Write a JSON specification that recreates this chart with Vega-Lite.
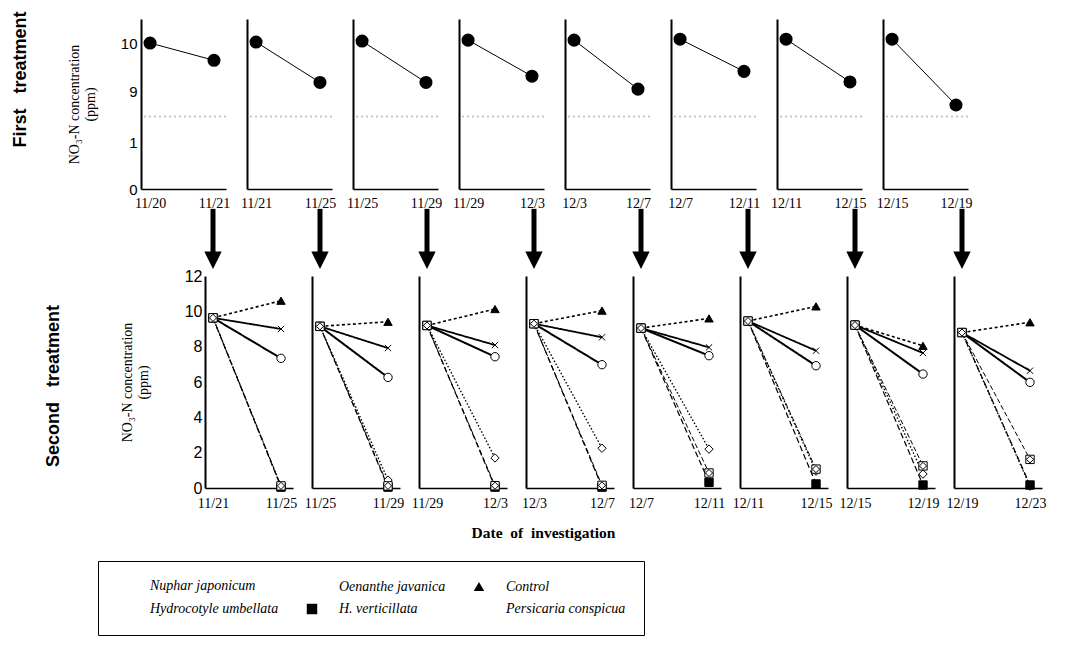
{
"$schema": "https://vega.github.io/schema/vega-lite/v6.json",
"padding": {"left": 12, "top": 11, "right": 5, "bottom": 5},
"bounds": "flush",
"spacing": 257,
"datasets": {
"top": [
{"panel":1,"date":"11/20","v":10.0},{"panel":1,"date":"11/21","v":9.64},
{"panel":2,"date":"11/21","v":10.02},{"panel":2,"date":"11/25","v":9.18},
{"panel":3,"date":"11/25","v":10.04},{"panel":3,"date":"11/29","v":9.18},
{"panel":4,"date":"11/29","v":10.06},{"panel":4,"date":"12/3","v":9.31},
{"panel":5,"date":"12/3","v":10.06},{"panel":5,"date":"12/7","v":9.04},
{"panel":6,"date":"12/7","v":10.08},{"panel":6,"date":"12/11","v":9.41},
{"panel":7,"date":"12/11","v":10.08},{"panel":7,"date":"12/15","v":9.19},
{"panel":8,"date":"12/15","v":10.08},{"panel":8,"date":"12/19","v":8.71}
],
"bottom": [
{"panel":1,"date":"11/21","series":"Nuphar japonicum","v":9.63},{"panel":1,"date":"11/25","series":"Nuphar japonicum","v":7.34},
{"panel":1,"date":"11/21","series":"Oenanthe javanica","v":9.63},{"panel":1,"date":"11/25","series":"Oenanthe javanica","v":9.0},
{"panel":1,"date":"11/21","series":"Control","v":9.63},{"panel":1,"date":"11/25","series":"Control","v":10.6},
{"panel":1,"date":"11/21","series":"Hydrocotyle umbellata","v":9.63},{"panel":1,"date":"11/25","series":"Hydrocotyle umbellata","v":0.1},
{"panel":1,"date":"11/21","series":"H. verticillata","v":9.63},{"panel":1,"date":"11/25","series":"H. verticillata","v":0.05},
{"panel":1,"date":"11/21","series":"Persicaria conspicua","v":9.63},{"panel":1,"date":"11/25","series":"Persicaria conspicua","v":0.12},
{"panel":2,"date":"11/25","series":"Nuphar japonicum","v":9.15},{"panel":2,"date":"11/29","series":"Nuphar japonicum","v":6.26},
{"panel":2,"date":"11/25","series":"Oenanthe javanica","v":9.15},{"panel":2,"date":"11/29","series":"Oenanthe javanica","v":7.92},
{"panel":2,"date":"11/25","series":"Control","v":9.15},{"panel":2,"date":"11/29","series":"Control","v":9.41},
{"panel":2,"date":"11/25","series":"Hydrocotyle umbellata","v":9.15},{"panel":2,"date":"11/29","series":"Hydrocotyle umbellata","v":0.45},
{"panel":2,"date":"11/25","series":"H. verticillata","v":9.15},{"panel":2,"date":"11/29","series":"H. verticillata","v":0.05},
{"panel":2,"date":"11/25","series":"Persicaria conspicua","v":9.15},{"panel":2,"date":"11/29","series":"Persicaria conspicua","v":0.12},
{"panel":3,"date":"11/29","series":"Nuphar japonicum","v":9.2},{"panel":3,"date":"12/3","series":"Nuphar japonicum","v":7.43},
{"panel":3,"date":"11/29","series":"Oenanthe javanica","v":9.2},{"panel":3,"date":"12/3","series":"Oenanthe javanica","v":8.09},
{"panel":3,"date":"11/29","series":"Control","v":9.2},{"panel":3,"date":"12/3","series":"Control","v":10.13},
{"panel":3,"date":"11/29","series":"Hydrocotyle umbellata","v":9.2},{"panel":3,"date":"12/3","series":"Hydrocotyle umbellata","v":1.7},
{"panel":3,"date":"11/29","series":"H. verticillata","v":9.2},{"panel":3,"date":"12/3","series":"H. verticillata","v":0.05},
{"panel":3,"date":"11/29","series":"Persicaria conspicua","v":9.2},{"panel":3,"date":"12/3","series":"Persicaria conspicua","v":0.13},
{"panel":4,"date":"12/3","series":"Nuphar japonicum","v":9.3},{"panel":4,"date":"12/7","series":"Nuphar japonicum","v":6.98},
{"panel":4,"date":"12/3","series":"Oenanthe javanica","v":9.3},{"panel":4,"date":"12/7","series":"Oenanthe javanica","v":8.53},
{"panel":4,"date":"12/3","series":"Control","v":9.3},{"panel":4,"date":"12/7","series":"Control","v":10.04},
{"panel":4,"date":"12/3","series":"Hydrocotyle umbellata","v":9.3},{"panel":4,"date":"12/7","series":"Hydrocotyle umbellata","v":2.25},
{"panel":4,"date":"12/3","series":"H. verticillata","v":9.3},{"panel":4,"date":"12/7","series":"H. verticillata","v":0.05},
{"panel":4,"date":"12/3","series":"Persicaria conspicua","v":9.3},{"panel":4,"date":"12/7","series":"Persicaria conspicua","v":0.15},
{"panel":5,"date":"12/7","series":"Nuphar japonicum","v":9.05},{"panel":5,"date":"12/11","series":"Nuphar japonicum","v":7.49},
{"panel":5,"date":"12/7","series":"Oenanthe javanica","v":9.05},{"panel":5,"date":"12/11","series":"Oenanthe javanica","v":7.96},
{"panel":5,"date":"12/7","series":"Control","v":9.05},{"panel":5,"date":"12/11","series":"Control","v":9.6},
{"panel":5,"date":"12/7","series":"Hydrocotyle umbellata","v":9.05},{"panel":5,"date":"12/11","series":"Hydrocotyle umbellata","v":2.2},
{"panel":5,"date":"12/7","series":"H. verticillata","v":9.05},{"panel":5,"date":"12/11","series":"H. verticillata","v":0.32},
{"panel":5,"date":"12/7","series":"Persicaria conspicua","v":9.05},{"panel":5,"date":"12/11","series":"Persicaria conspicua","v":0.85},
{"panel":6,"date":"12/11","series":"Nuphar japonicum","v":9.45},{"panel":6,"date":"12/15","series":"Nuphar japonicum","v":6.92},
{"panel":6,"date":"12/11","series":"Oenanthe javanica","v":9.45},{"panel":6,"date":"12/15","series":"Oenanthe javanica","v":7.77},
{"panel":6,"date":"12/11","series":"Control","v":9.45},{"panel":6,"date":"12/15","series":"Control","v":10.28},
{"panel":6,"date":"12/11","series":"Hydrocotyle umbellata","v":9.45},{"panel":6,"date":"12/15","series":"Hydrocotyle umbellata","v":0.95},
{"panel":6,"date":"12/11","series":"H. verticillata","v":9.45},{"panel":6,"date":"12/15","series":"H. verticillata","v":0.23},
{"panel":6,"date":"12/11","series":"Persicaria conspicua","v":9.45},{"panel":6,"date":"12/15","series":"Persicaria conspicua","v":1.07},
{"panel":7,"date":"12/15","series":"Nuphar japonicum","v":9.22},{"panel":7,"date":"12/19","series":"Nuphar japonicum","v":6.45},
{"panel":7,"date":"12/15","series":"Oenanthe javanica","v":9.22},{"panel":7,"date":"12/19","series":"Oenanthe javanica","v":7.64},
{"panel":7,"date":"12/15","series":"Control","v":9.22},{"panel":7,"date":"12/19","series":"Control","v":8.05},
{"panel":7,"date":"12/15","series":"Hydrocotyle umbellata","v":9.22},{"panel":7,"date":"12/19","series":"Hydrocotyle umbellata","v":0.79},
{"panel":7,"date":"12/15","series":"H. verticillata","v":9.22},{"panel":7,"date":"12/19","series":"H. verticillata","v":0.17},
{"panel":7,"date":"12/15","series":"Persicaria conspicua","v":9.22},{"panel":7,"date":"12/19","series":"Persicaria conspicua","v":1.25},
{"panel":8,"date":"12/19","series":"Nuphar japonicum","v":8.8},{"panel":8,"date":"12/23","series":"Nuphar japonicum","v":5.98},
{"panel":8,"date":"12/19","series":"Oenanthe javanica","v":8.8},{"panel":8,"date":"12/23","series":"Oenanthe javanica","v":6.64},
{"panel":8,"date":"12/19","series":"Control","v":8.8},{"panel":8,"date":"12/23","series":"Control","v":9.38},
{"panel":8,"date":"12/19","series":"Hydrocotyle umbellata","v":8.8},{"panel":8,"date":"12/23","series":"Hydrocotyle umbellata","v":0.1},
{"panel":8,"date":"12/19","series":"H. verticillata","v":8.8},{"panel":8,"date":"12/23","series":"H. verticillata","v":0.17},
{"panel":8,"date":"12/19","series":"Persicaria conspicua","v":8.8},{"panel":8,"date":"12/23","series":"Persicaria conspicua","v":1.62}
]
},
"vconcat": [
{
"bounds": "flush",
"spacing": 21,
"title": {"text": "First\u00a0\u00a0\u00a0treatment", "orient": "left", "anchor": "middle", "frame": "bounds", "font": "Liberation Sans", "fontSize": 18, "fontWeight": "bold", "color": "black", "offset": 37, "dx": 35},
"hconcat": [
{"width": 85, "height": 170, "data": {"name": "top"}, "transform": [{"filter": "datum.panel == 1"}],
 "layer": [
  {"mark": {"type": "rule", "color": "#c4c4c4", "strokeDash": [2, 3], "strokeWidth": 1.5}, "encoding": {"y": {"datum": 8.47, "type": "quantitative", "scale": {"domain": [0, 1.52, 8.46, 10.5], "range": [170, 100, 98, 0], "zero": false, "nice": false}, "axis": {"values": [0, 1, 9, 10], "ticks": false, "domainWidth": 2, "labelFont": "Liberation Sans", "labelFontSize": 15, "labelPadding": 4, "labelFlush": false, "title": ["NO₃-N concentration", "(ppm)"], "titleFont": "Liberation Serif", "titleFontSize": 14, "titleFontWeight": "normal", "titlePadding": 23}}}},
  {"mark": {"type": "line", "color": "black", "strokeWidth": 1}, "encoding": {
   "x": {"field": "date", "type": "nominal", "scale": {"type": "point", "domain": ["11/20", "11/21"], "padding": 0.165, "align": 0.43}, "axis": {"title": null, "labelAngle": 0, "ticks": false, "domainWidth": 1.5, "labelFont": "Liberation Serif", "labelFontSize": 14, "labelPadding": 7, "labelOverlap": false, "labelBound": false, "labelFlush": false}},
   "y": {"field": "v", "type": "quantitative", "scale": {"domain": [0, 1.52, 8.46, 10.5], "range": [170, 100, 98, 0], "zero": false, "nice": false}, "axis": {"values": [0, 1, 9, 10], "ticks": false, "domainWidth": 2, "labelFont": "Liberation Sans", "labelFontSize": 15, "labelPadding": 4, "labelFlush": false, "title": ["NO₃-N concentration", "(ppm)"], "titleFont": "Liberation Serif", "titleFontSize": 14, "titleFontWeight": "normal", "titlePadding": 23}}}},
  {"mark": {"type": "point", "filled": true, "color": "black", "size": 170, "opacity": 1}, "encoding": {
   "x": {"field": "date", "type": "nominal", "scale": {"type": "point", "domain": ["11/20", "11/21"], "padding": 0.165, "align": 0.43}, "axis": {"title": null, "labelAngle": 0, "ticks": false, "domainWidth": 1.5, "labelFont": "Liberation Serif", "labelFontSize": 14, "labelPadding": 7, "labelOverlap": false, "labelBound": false, "labelFlush": false}},
   "y": {"field": "v", "type": "quantitative", "scale": {"domain": [0, 1.52, 8.46, 10.5], "range": [170, 100, 98, 0], "zero": false, "nice": false}, "axis": {"values": [0, 1, 9, 10], "ticks": false, "domainWidth": 2, "labelFont": "Liberation Sans", "labelFontSize": 15, "labelPadding": 4, "labelFlush": false, "title": ["NO₃-N concentration", "(ppm)"], "titleFont": "Liberation Serif", "titleFontSize": 14, "titleFontWeight": "normal", "titlePadding": 23}}}}
 ]},
{"width": 85, "height": 170, "data": {"name": "top"}, "transform": [{"filter": "datum.panel == 2"}],
 "layer": [
  {"mark": {"type": "rule", "color": "#c4c4c4", "strokeDash": [2, 3], "strokeWidth": 1.5}, "encoding": {"y": {"datum": 8.47, "type": "quantitative", "scale": {"domain": [0, 1.52, 8.46, 10.5], "range": [170, 100, 98, 0], "zero": false, "nice": false}, "axis": {"values": [0, 1, 9, 10], "ticks": false, "domainWidth": 2, "labels": false, "title": null}}}},
  {"mark": {"type": "line", "color": "black", "strokeWidth": 1}, "encoding": {
   "x": {"field": "date", "type": "nominal", "scale": {"type": "point", "domain": ["11/21", "11/25"], "padding": 0.165, "align": 0.43}, "axis": {"title": null, "labelAngle": 0, "ticks": false, "domainWidth": 1.5, "labelFont": "Liberation Serif", "labelFontSize": 14, "labelPadding": 7, "labelOverlap": false, "labelBound": false, "labelFlush": false}},
   "y": {"field": "v", "type": "quantitative", "scale": {"domain": [0, 1.52, 8.46, 10.5], "range": [170, 100, 98, 0], "zero": false, "nice": false}, "axis": {"values": [0, 1, 9, 10], "ticks": false, "domainWidth": 2, "labels": false, "title": null}}}},
  {"mark": {"type": "point", "filled": true, "color": "black", "size": 170, "opacity": 1}, "encoding": {
   "x": {"field": "date", "type": "nominal", "scale": {"type": "point", "domain": ["11/21", "11/25"], "padding": 0.165, "align": 0.43}, "axis": {"title": null, "labelAngle": 0, "ticks": false, "domainWidth": 1.5, "labelFont": "Liberation Serif", "labelFontSize": 14, "labelPadding": 7, "labelOverlap": false, "labelBound": false, "labelFlush": false}},
   "y": {"field": "v", "type": "quantitative", "scale": {"domain": [0, 1.52, 8.46, 10.5], "range": [170, 100, 98, 0], "zero": false, "nice": false}, "axis": {"values": [0, 1, 9, 10], "ticks": false, "domainWidth": 2, "labels": false, "title": null}}}}
 ]},
{"width": 85, "height": 170, "data": {"name": "top"}, "transform": [{"filter": "datum.panel == 3"}],
 "layer": [
  {"mark": {"type": "rule", "color": "#c4c4c4", "strokeDash": [2, 3], "strokeWidth": 1.5}, "encoding": {"y": {"datum": 8.47, "type": "quantitative", "scale": {"domain": [0, 1.52, 8.46, 10.5], "range": [170, 100, 98, 0], "zero": false, "nice": false}, "axis": {"values": [0, 1, 9, 10], "ticks": false, "domainWidth": 2, "labels": false, "title": null}}}},
  {"mark": {"type": "line", "color": "black", "strokeWidth": 1}, "encoding": {
   "x": {"field": "date", "type": "nominal", "scale": {"type": "point", "domain": ["11/25", "11/29"], "padding": 0.165, "align": 0.43}, "axis": {"title": null, "labelAngle": 0, "ticks": false, "domainWidth": 1.5, "labelFont": "Liberation Serif", "labelFontSize": 14, "labelPadding": 7, "labelOverlap": false, "labelBound": false, "labelFlush": false}},
   "y": {"field": "v", "type": "quantitative", "scale": {"domain": [0, 1.52, 8.46, 10.5], "range": [170, 100, 98, 0], "zero": false, "nice": false}, "axis": {"values": [0, 1, 9, 10], "ticks": false, "domainWidth": 2, "labels": false, "title": null}}}},
  {"mark": {"type": "point", "filled": true, "color": "black", "size": 170, "opacity": 1}, "encoding": {
   "x": {"field": "date", "type": "nominal", "scale": {"type": "point", "domain": ["11/25", "11/29"], "padding": 0.165, "align": 0.43}, "axis": {"title": null, "labelAngle": 0, "ticks": false, "domainWidth": 1.5, "labelFont": "Liberation Serif", "labelFontSize": 14, "labelPadding": 7, "labelOverlap": false, "labelBound": false, "labelFlush": false}},
   "y": {"field": "v", "type": "quantitative", "scale": {"domain": [0, 1.52, 8.46, 10.5], "range": [170, 100, 98, 0], "zero": false, "nice": false}, "axis": {"values": [0, 1, 9, 10], "ticks": false, "domainWidth": 2, "labels": false, "title": null}}}}
 ]},
{"width": 85, "height": 170, "data": {"name": "top"}, "transform": [{"filter": "datum.panel == 4"}],
 "layer": [
  {"mark": {"type": "rule", "color": "#c4c4c4", "strokeDash": [2, 3], "strokeWidth": 1.5}, "encoding": {"y": {"datum": 8.47, "type": "quantitative", "scale": {"domain": [0, 1.52, 8.46, 10.5], "range": [170, 100, 98, 0], "zero": false, "nice": false}, "axis": {"values": [0, 1, 9, 10], "ticks": false, "domainWidth": 2, "labels": false, "title": null}}}},
  {"mark": {"type": "line", "color": "black", "strokeWidth": 1}, "encoding": {
   "x": {"field": "date", "type": "nominal", "scale": {"type": "point", "domain": ["11/29", "12/3"], "padding": 0.165, "align": 0.43}, "axis": {"title": null, "labelAngle": 0, "ticks": false, "domainWidth": 1.5, "labelFont": "Liberation Serif", "labelFontSize": 14, "labelPadding": 7, "labelOverlap": false, "labelBound": false, "labelFlush": false}},
   "y": {"field": "v", "type": "quantitative", "scale": {"domain": [0, 1.52, 8.46, 10.5], "range": [170, 100, 98, 0], "zero": false, "nice": false}, "axis": {"values": [0, 1, 9, 10], "ticks": false, "domainWidth": 2, "labels": false, "title": null}}}},
  {"mark": {"type": "point", "filled": true, "color": "black", "size": 170, "opacity": 1}, "encoding": {
   "x": {"field": "date", "type": "nominal", "scale": {"type": "point", "domain": ["11/29", "12/3"], "padding": 0.165, "align": 0.43}, "axis": {"title": null, "labelAngle": 0, "ticks": false, "domainWidth": 1.5, "labelFont": "Liberation Serif", "labelFontSize": 14, "labelPadding": 7, "labelOverlap": false, "labelBound": false, "labelFlush": false}},
   "y": {"field": "v", "type": "quantitative", "scale": {"domain": [0, 1.52, 8.46, 10.5], "range": [170, 100, 98, 0], "zero": false, "nice": false}, "axis": {"values": [0, 1, 9, 10], "ticks": false, "domainWidth": 2, "labels": false, "title": null}}}}
 ]},
{"width": 85, "height": 170, "data": {"name": "top"}, "transform": [{"filter": "datum.panel == 5"}],
 "layer": [
  {"mark": {"type": "rule", "color": "#c4c4c4", "strokeDash": [2, 3], "strokeWidth": 1.5}, "encoding": {"y": {"datum": 8.47, "type": "quantitative", "scale": {"domain": [0, 1.52, 8.46, 10.5], "range": [170, 100, 98, 0], "zero": false, "nice": false}, "axis": {"values": [0, 1, 9, 10], "ticks": false, "domainWidth": 2, "labels": false, "title": null}}}},
  {"mark": {"type": "line", "color": "black", "strokeWidth": 1}, "encoding": {
   "x": {"field": "date", "type": "nominal", "scale": {"type": "point", "domain": ["12/3", "12/7"], "padding": 0.165, "align": 0.43}, "axis": {"title": null, "labelAngle": 0, "ticks": false, "domainWidth": 1.5, "labelFont": "Liberation Serif", "labelFontSize": 14, "labelPadding": 7, "labelOverlap": false, "labelBound": false, "labelFlush": false}},
   "y": {"field": "v", "type": "quantitative", "scale": {"domain": [0, 1.52, 8.46, 10.5], "range": [170, 100, 98, 0], "zero": false, "nice": false}, "axis": {"values": [0, 1, 9, 10], "ticks": false, "domainWidth": 2, "labels": false, "title": null}}}},
  {"mark": {"type": "point", "filled": true, "color": "black", "size": 170, "opacity": 1}, "encoding": {
   "x": {"field": "date", "type": "nominal", "scale": {"type": "point", "domain": ["12/3", "12/7"], "padding": 0.165, "align": 0.43}, "axis": {"title": null, "labelAngle": 0, "ticks": false, "domainWidth": 1.5, "labelFont": "Liberation Serif", "labelFontSize": 14, "labelPadding": 7, "labelOverlap": false, "labelBound": false, "labelFlush": false}},
   "y": {"field": "v", "type": "quantitative", "scale": {"domain": [0, 1.52, 8.46, 10.5], "range": [170, 100, 98, 0], "zero": false, "nice": false}, "axis": {"values": [0, 1, 9, 10], "ticks": false, "domainWidth": 2, "labels": false, "title": null}}}}
 ]},
{"width": 85, "height": 170, "data": {"name": "top"}, "transform": [{"filter": "datum.panel == 6"}],
 "layer": [
  {"mark": {"type": "rule", "color": "#c4c4c4", "strokeDash": [2, 3], "strokeWidth": 1.5}, "encoding": {"y": {"datum": 8.47, "type": "quantitative", "scale": {"domain": [0, 1.52, 8.46, 10.5], "range": [170, 100, 98, 0], "zero": false, "nice": false}, "axis": {"values": [0, 1, 9, 10], "ticks": false, "domainWidth": 2, "labels": false, "title": null}}}},
  {"mark": {"type": "line", "color": "black", "strokeWidth": 1}, "encoding": {
   "x": {"field": "date", "type": "nominal", "scale": {"type": "point", "domain": ["12/7", "12/11"], "padding": 0.165, "align": 0.43}, "axis": {"title": null, "labelAngle": 0, "ticks": false, "domainWidth": 1.5, "labelFont": "Liberation Serif", "labelFontSize": 14, "labelPadding": 7, "labelOverlap": false, "labelBound": false, "labelFlush": false}},
   "y": {"field": "v", "type": "quantitative", "scale": {"domain": [0, 1.52, 8.46, 10.5], "range": [170, 100, 98, 0], "zero": false, "nice": false}, "axis": {"values": [0, 1, 9, 10], "ticks": false, "domainWidth": 2, "labels": false, "title": null}}}},
  {"mark": {"type": "point", "filled": true, "color": "black", "size": 170, "opacity": 1}, "encoding": {
   "x": {"field": "date", "type": "nominal", "scale": {"type": "point", "domain": ["12/7", "12/11"], "padding": 0.165, "align": 0.43}, "axis": {"title": null, "labelAngle": 0, "ticks": false, "domainWidth": 1.5, "labelFont": "Liberation Serif", "labelFontSize": 14, "labelPadding": 7, "labelOverlap": false, "labelBound": false, "labelFlush": false}},
   "y": {"field": "v", "type": "quantitative", "scale": {"domain": [0, 1.52, 8.46, 10.5], "range": [170, 100, 98, 0], "zero": false, "nice": false}, "axis": {"values": [0, 1, 9, 10], "ticks": false, "domainWidth": 2, "labels": false, "title": null}}}}
 ]},
{"width": 85, "height": 170, "data": {"name": "top"}, "transform": [{"filter": "datum.panel == 7"}],
 "layer": [
  {"mark": {"type": "rule", "color": "#c4c4c4", "strokeDash": [2, 3], "strokeWidth": 1.5}, "encoding": {"y": {"datum": 8.47, "type": "quantitative", "scale": {"domain": [0, 1.52, 8.46, 10.5], "range": [170, 100, 98, 0], "zero": false, "nice": false}, "axis": {"values": [0, 1, 9, 10], "ticks": false, "domainWidth": 2, "labels": false, "title": null}}}},
  {"mark": {"type": "line", "color": "black", "strokeWidth": 1}, "encoding": {
   "x": {"field": "date", "type": "nominal", "scale": {"type": "point", "domain": ["12/11", "12/15"], "padding": 0.165, "align": 0.43}, "axis": {"title": null, "labelAngle": 0, "ticks": false, "domainWidth": 1.5, "labelFont": "Liberation Serif", "labelFontSize": 14, "labelPadding": 7, "labelOverlap": false, "labelBound": false, "labelFlush": false}},
   "y": {"field": "v", "type": "quantitative", "scale": {"domain": [0, 1.52, 8.46, 10.5], "range": [170, 100, 98, 0], "zero": false, "nice": false}, "axis": {"values": [0, 1, 9, 10], "ticks": false, "domainWidth": 2, "labels": false, "title": null}}}},
  {"mark": {"type": "point", "filled": true, "color": "black", "size": 170, "opacity": 1}, "encoding": {
   "x": {"field": "date", "type": "nominal", "scale": {"type": "point", "domain": ["12/11", "12/15"], "padding": 0.165, "align": 0.43}, "axis": {"title": null, "labelAngle": 0, "ticks": false, "domainWidth": 1.5, "labelFont": "Liberation Serif", "labelFontSize": 14, "labelPadding": 7, "labelOverlap": false, "labelBound": false, "labelFlush": false}},
   "y": {"field": "v", "type": "quantitative", "scale": {"domain": [0, 1.52, 8.46, 10.5], "range": [170, 100, 98, 0], "zero": false, "nice": false}, "axis": {"values": [0, 1, 9, 10], "ticks": false, "domainWidth": 2, "labels": false, "title": null}}}}
 ]},
{"width": 85, "height": 170, "data": {"name": "top"}, "transform": [{"filter": "datum.panel == 8"}],
 "layer": [
  {"mark": {"type": "rule", "color": "#c4c4c4", "strokeDash": [2, 3], "strokeWidth": 1.5}, "encoding": {"y": {"datum": 8.47, "type": "quantitative", "scale": {"domain": [0, 1.52, 8.46, 10.5], "range": [170, 100, 98, 0], "zero": false, "nice": false}, "axis": {"values": [0, 1, 9, 10], "ticks": false, "domainWidth": 2, "labels": false, "title": null}}}},
  {"mark": {"type": "line", "color": "black", "strokeWidth": 1}, "encoding": {
   "x": {"field": "date", "type": "nominal", "scale": {"type": "point", "domain": ["12/15", "12/19"], "padding": 0.165, "align": 0.43}, "axis": {"title": null, "labelAngle": 0, "ticks": false, "domainWidth": 1.5, "labelFont": "Liberation Serif", "labelFontSize": 14, "labelPadding": 7, "labelOverlap": false, "labelBound": false, "labelFlush": false}},
   "y": {"field": "v", "type": "quantitative", "scale": {"domain": [0, 1.52, 8.46, 10.5], "range": [170, 100, 98, 0], "zero": false, "nice": false}, "axis": {"values": [0, 1, 9, 10], "ticks": false, "domainWidth": 2, "labels": false, "title": null}}}},
  {"mark": {"type": "point", "filled": true, "color": "black", "size": 170, "opacity": 1}, "encoding": {
   "x": {"field": "date", "type": "nominal", "scale": {"type": "point", "domain": ["12/15", "12/19"], "padding": 0.165, "align": 0.43}, "axis": {"title": null, "labelAngle": 0, "ticks": false, "domainWidth": 1.5, "labelFont": "Liberation Serif", "labelFontSize": 14, "labelPadding": 7, "labelOverlap": false, "labelBound": false, "labelFlush": false}},
   "y": {"field": "v", "type": "quantitative", "scale": {"domain": [0, 1.52, 8.46, 10.5], "range": [170, 100, 98, 0], "zero": false, "nice": false}, "axis": {"values": [0, 1, 9, 10], "ticks": false, "domainWidth": 2, "labels": false, "title": null}}}}
 ]}
]
},
{
"bounds": "flush",
"spacing": 19,
"title": {"text": "Second\u00a0\u00a0\u00a0treatment", "orient": "left", "anchor": "middle", "frame": "bounds", "font": "Liberation Sans", "fontSize": 18, "fontWeight": "bold", "color": "black", "offset": 35, "dx": 35},
"resolve": {"scale": {"shape": "independent", "fill": "independent"}, "legend": {"shape": "independent", "fill": "independent"}},
"hconcat": [
{"width": 45, "height": 212, "data": {"values": [{"k": 1}]}, "mark": {"type": "text", "text": ""}, "encoding": {}},
{"width": 88, "height": 212, "data": {"name": "bottom"}, "transform": [{"filter": "datum.panel == 1"}],
 "layer": [
  {"mark": {"type": "line", "color": "black"}, "encoding": {
   "x": {"field": "date", "type": "nominal", "scale": {"type": "point", "domain": ["11/21", "11/25"], "padding": 0.147, "align": 0.4}, "axis": {"title": null, "labelAngle": 0, "ticks": false, "domainWidth": 1.5, "labelFont": "Liberation Serif", "labelFontSize": 14, "labelPadding": 8, "labelOverlap": false, "labelBound": false, "labelFlush": false}},
   "y": {"field": "v", "type": "quantitative", "scale": {"domain": [0, 12], "nice": false}, "axis": {"values": [0, 2, 4, 6, 8, 10, 12], "ticks": false, "domainWidth": 2, "labelFont": "Liberation Sans", "labelFontSize": 16, "labelPadding": 3, "labelFlush": false, "title": ["NO₃-N concentration", "(ppm)"], "titleFont": "Liberation Serif", "titleFontSize": 14, "titleFontWeight": "normal", "titlePadding": 34}},
   "strokeDash": {"field": "series", "type": "nominal", "scale": {"domain": ["Nuphar japonicum", "Oenanthe javanica", "Control", "Hydrocotyle umbellata", "H. verticillata", "Persicaria conspicua"], "range": [[1, 0], [1, 0], [3, 2.5], [1.5, 2], [6, 3], [5, 2.5]]}, "legend": null},
   "strokeWidth": {"field": "series", "type": "nominal", "scale": {"domain": ["Nuphar japonicum", "Oenanthe javanica", "Control", "Hydrocotyle umbellata", "H. verticillata", "Persicaria conspicua"], "range": [2, 1, 2.5, 1, 2.5, 1.3]}, "legend": null}}},
  {"mark": {"type": "point", "filled": true, "stroke": "black", "strokeWidth": 1, "size": 70, "opacity": 1}, "encoding": {
   "x": {"field": "date", "type": "nominal", "scale": {"type": "point", "domain": ["11/21", "11/25"], "padding": 0.147, "align": 0.4}, "axis": {"title": null, "labelAngle": 0, "ticks": false, "domainWidth": 1.5, "labelFont": "Liberation Serif", "labelFontSize": 14, "labelPadding": 8, "labelOverlap": false, "labelBound": false, "labelFlush": false}},
   "y": {"field": "v", "type": "quantitative", "scale": {"domain": [0, 12], "nice": false}, "axis": {"values": [0, 2, 4, 6, 8, 10, 12], "ticks": false, "domainWidth": 2, "labelFont": "Liberation Sans", "labelFontSize": 16, "labelPadding": 3, "labelFlush": false, "title": ["NO₃-N concentration", "(ppm)"], "titleFont": "Liberation Serif", "titleFontSize": 14, "titleFontWeight": "normal", "titlePadding": 34}},
   "shape": {"field": "series", "type": "nominal", "scale": {"domain": ["Nuphar japonicum", "Oenanthe javanica", "Control", "Hydrocotyle umbellata", "H. verticillata", "Persicaria conspicua"], "range": ["circle", "M-0.75,-0.75L0.75,0.75M-0.75,0.75L0.75,-0.75", "triangle-up", "diamond", "square", "M-1,-1L1,-1L1,1L-1,1Z M0,-0.85L0.85,0L0,0.85L-0.85,0Z"]},
     "legend": {"title": null, "orient": "none", "legendX": -107, "legendY": 285, "direction": "horizontal", "columns": 3, "columnPadding": 25, "rowPadding": 7, "padding": 18, "gridAlign": "each", "strokeColor": "black", "symbolSize": 110, "symbolStrokeColor": "black", "symbolStrokeWidth": 1, "labelFont": "Liberation Serif", "labelFontStyle": "italic", "labelFontSize": 14, "labelColor": "black", "labelOffset": 20, "labelLimit": 700,
       "encode": {"symbols": {"stroke": {"value": "black"}, "strokeWidth": {"value": 1}}}}},
   "fill": {"field": "series", "type": "nominal", "scale": {"domain": ["Nuphar japonicum", "Oenanthe javanica", "Control", "Hydrocotyle umbellata", "H. verticillata", "Persicaria conspicua"], "range": ["white", "white", "black", "white", "black", "white"]},
     "legend": {"title": null, "orient": "none", "legendX": -107, "legendY": 285, "direction": "horizontal", "columns": 3, "columnPadding": 25, "rowPadding": 7, "padding": 18, "gridAlign": "each", "strokeColor": "black", "symbolSize": 110, "symbolStrokeColor": "black", "symbolStrokeWidth": 1, "labelFont": "Liberation Serif", "labelFontStyle": "italic", "labelFontSize": 14, "labelColor": "black", "labelOffset": 20, "labelLimit": 700,
       "encode": {"symbols": {"stroke": {"value": "black"}, "strokeWidth": {"value": 1}}}}}}},
  {"transform": [{"filter": "datum.series == 'Control' && datum.date == '11/21'"}], "mark": {"type": "rule", "color": "black", "strokeWidth": 5}, "encoding": {
   "x": {"field": "date", "type": "nominal", "scale": {"type": "point", "domain": ["11/21", "11/25"], "padding": 0.147, "align": 0.4}, "axis": {"title": null, "labelAngle": 0, "ticks": false, "domainWidth": 1.5, "labelFont": "Liberation Serif", "labelFontSize": 14, "labelPadding": 8, "labelOverlap": false, "labelBound": false, "labelFlush": false}},
   "y": {"datum": 15.8, "type": "quantitative", "scale": {"domain": [0, 12], "nice": false}, "axis": {"values": [0, 2, 4, 6, 8, 10, 12], "ticks": false, "domainWidth": 2, "labelFont": "Liberation Sans", "labelFontSize": 16, "labelPadding": 3, "labelFlush": false, "title": ["NO₃-N concentration", "(ppm)"], "titleFont": "Liberation Serif", "titleFontSize": 14, "titleFontWeight": "normal", "titlePadding": 34}},
   "y2": {"datum": 13.25}}},
  {"transform": [{"filter": "datum.series == 'Control' && datum.date == '11/21'"}], "mark": {"type": "point", "shape": "M-1,-1L1,-1L0,1Z", "filled": true, "color": "black", "size": 300, "opacity": 1}, "encoding": {
   "x": {"field": "date", "type": "nominal", "scale": {"type": "point", "domain": ["11/21", "11/25"], "padding": 0.147, "align": 0.4}, "axis": {"title": null, "labelAngle": 0, "ticks": false, "domainWidth": 1.5, "labelFont": "Liberation Serif", "labelFontSize": 14, "labelPadding": 8, "labelOverlap": false, "labelBound": false, "labelFlush": false}},
   "y": {"datum": 12.89, "type": "quantitative", "scale": {"domain": [0, 12], "nice": false}, "axis": {"values": [0, 2, 4, 6, 8, 10, 12], "ticks": false, "domainWidth": 2, "labelFont": "Liberation Sans", "labelFontSize": 16, "labelPadding": 3, "labelFlush": false, "title": ["NO₃-N concentration", "(ppm)"], "titleFont": "Liberation Serif", "titleFontSize": 14, "titleFontWeight": "normal", "titlePadding": 34}}}}
 ]},
{"width": 88, "height": 212, "data": {"name": "bottom"}, "transform": [{"filter": "datum.panel == 2"}],
 "layer": [
  {"mark": {"type": "line", "color": "black"}, "encoding": {
   "x": {"field": "date", "type": "nominal", "scale": {"type": "point", "domain": ["11/25", "11/29"], "padding": 0.147, "align": 0.4}, "axis": {"title": null, "labelAngle": 0, "ticks": false, "domainWidth": 1.5, "labelFont": "Liberation Serif", "labelFontSize": 14, "labelPadding": 8, "labelOverlap": false, "labelBound": false, "labelFlush": false}},
   "y": {"field": "v", "type": "quantitative", "scale": {"domain": [0, 12], "nice": false}, "axis": {"values": [0, 2, 4, 6, 8, 10, 12], "ticks": false, "domainWidth": 2, "labels": false, "title": null}},
   "strokeDash": {"field": "series", "type": "nominal", "scale": {"domain": ["Nuphar japonicum", "Oenanthe javanica", "Control", "Hydrocotyle umbellata", "H. verticillata", "Persicaria conspicua"], "range": [[1, 0], [1, 0], [3, 2.5], [1.5, 2], [6, 3], [5, 2.5]]}, "legend": null},
   "strokeWidth": {"field": "series", "type": "nominal", "scale": {"domain": ["Nuphar japonicum", "Oenanthe javanica", "Control", "Hydrocotyle umbellata", "H. verticillata", "Persicaria conspicua"], "range": [2, 1, 2.5, 1, 2.5, 1.3]}, "legend": null}}},
  {"mark": {"type": "point", "filled": true, "stroke": "black", "strokeWidth": 1, "size": 70, "opacity": 1}, "encoding": {
   "x": {"field": "date", "type": "nominal", "scale": {"type": "point", "domain": ["11/25", "11/29"], "padding": 0.147, "align": 0.4}, "axis": {"title": null, "labelAngle": 0, "ticks": false, "domainWidth": 1.5, "labelFont": "Liberation Serif", "labelFontSize": 14, "labelPadding": 8, "labelOverlap": false, "labelBound": false, "labelFlush": false}},
   "y": {"field": "v", "type": "quantitative", "scale": {"domain": [0, 12], "nice": false}, "axis": {"values": [0, 2, 4, 6, 8, 10, 12], "ticks": false, "domainWidth": 2, "labels": false, "title": null}},
   "shape": {"field": "series", "type": "nominal", "legend": null, "scale": {"domain": ["Nuphar japonicum", "Oenanthe javanica", "Control", "Hydrocotyle umbellata", "H. verticillata", "Persicaria conspicua"], "range": ["circle", "M-0.75,-0.75L0.75,0.75M-0.75,0.75L0.75,-0.75", "triangle-up", "diamond", "square", "M-1,-1L1,-1L1,1L-1,1Z M0,-0.85L0.85,0L0,0.85L-0.85,0Z"]}},
   "fill": {"field": "series", "type": "nominal", "legend": null, "scale": {"domain": ["Nuphar japonicum", "Oenanthe javanica", "Control", "Hydrocotyle umbellata", "H. verticillata", "Persicaria conspicua"], "range": ["white", "white", "black", "white", "black", "white"]}}}},
  {"transform": [{"filter": "datum.series == 'Control' && datum.date == '11/25'"}], "mark": {"type": "rule", "color": "black", "strokeWidth": 5}, "encoding": {
   "x": {"field": "date", "type": "nominal", "scale": {"type": "point", "domain": ["11/25", "11/29"], "padding": 0.147, "align": 0.4}, "axis": {"title": null, "labelAngle": 0, "ticks": false, "domainWidth": 1.5, "labelFont": "Liberation Serif", "labelFontSize": 14, "labelPadding": 8, "labelOverlap": false, "labelBound": false, "labelFlush": false}},
   "y": {"datum": 15.8, "type": "quantitative", "scale": {"domain": [0, 12], "nice": false}, "axis": {"values": [0, 2, 4, 6, 8, 10, 12], "ticks": false, "domainWidth": 2, "labels": false, "title": null}},
   "y2": {"datum": 13.25}}},
  {"transform": [{"filter": "datum.series == 'Control' && datum.date == '11/25'"}], "mark": {"type": "point", "shape": "M-1,-1L1,-1L0,1Z", "filled": true, "color": "black", "size": 300, "opacity": 1}, "encoding": {
   "x": {"field": "date", "type": "nominal", "scale": {"type": "point", "domain": ["11/25", "11/29"], "padding": 0.147, "align": 0.4}, "axis": {"title": null, "labelAngle": 0, "ticks": false, "domainWidth": 1.5, "labelFont": "Liberation Serif", "labelFontSize": 14, "labelPadding": 8, "labelOverlap": false, "labelBound": false, "labelFlush": false}},
   "y": {"datum": 12.89, "type": "quantitative", "scale": {"domain": [0, 12], "nice": false}, "axis": {"values": [0, 2, 4, 6, 8, 10, 12], "ticks": false, "domainWidth": 2, "labels": false, "title": null}}}}
 ]},
{"width": 88, "height": 212, "data": {"name": "bottom"}, "transform": [{"filter": "datum.panel == 3"}],
 "layer": [
  {"mark": {"type": "line", "color": "black"}, "encoding": {
   "x": {"field": "date", "type": "nominal", "scale": {"type": "point", "domain": ["11/29", "12/3"], "padding": 0.147, "align": 0.4}, "axis": {"title": null, "labelAngle": 0, "ticks": false, "domainWidth": 1.5, "labelFont": "Liberation Serif", "labelFontSize": 14, "labelPadding": 8, "labelOverlap": false, "labelBound": false, "labelFlush": false}},
   "y": {"field": "v", "type": "quantitative", "scale": {"domain": [0, 12], "nice": false}, "axis": {"values": [0, 2, 4, 6, 8, 10, 12], "ticks": false, "domainWidth": 2, "labels": false, "title": null}},
   "strokeDash": {"field": "series", "type": "nominal", "scale": {"domain": ["Nuphar japonicum", "Oenanthe javanica", "Control", "Hydrocotyle umbellata", "H. verticillata", "Persicaria conspicua"], "range": [[1, 0], [1, 0], [3, 2.5], [1.5, 2], [6, 3], [5, 2.5]]}, "legend": null},
   "strokeWidth": {"field": "series", "type": "nominal", "scale": {"domain": ["Nuphar japonicum", "Oenanthe javanica", "Control", "Hydrocotyle umbellata", "H. verticillata", "Persicaria conspicua"], "range": [2, 1, 2.5, 1, 2.5, 1.3]}, "legend": null}}},
  {"mark": {"type": "point", "filled": true, "stroke": "black", "strokeWidth": 1, "size": 70, "opacity": 1}, "encoding": {
   "x": {"field": "date", "type": "nominal", "scale": {"type": "point", "domain": ["11/29", "12/3"], "padding": 0.147, "align": 0.4}, "axis": {"title": null, "labelAngle": 0, "ticks": false, "domainWidth": 1.5, "labelFont": "Liberation Serif", "labelFontSize": 14, "labelPadding": 8, "labelOverlap": false, "labelBound": false, "labelFlush": false}},
   "y": {"field": "v", "type": "quantitative", "scale": {"domain": [0, 12], "nice": false}, "axis": {"values": [0, 2, 4, 6, 8, 10, 12], "ticks": false, "domainWidth": 2, "labels": false, "title": null}},
   "shape": {"field": "series", "type": "nominal", "legend": null, "scale": {"domain": ["Nuphar japonicum", "Oenanthe javanica", "Control", "Hydrocotyle umbellata", "H. verticillata", "Persicaria conspicua"], "range": ["circle", "M-0.75,-0.75L0.75,0.75M-0.75,0.75L0.75,-0.75", "triangle-up", "diamond", "square", "M-1,-1L1,-1L1,1L-1,1Z M0,-0.85L0.85,0L0,0.85L-0.85,0Z"]}},
   "fill": {"field": "series", "type": "nominal", "legend": null, "scale": {"domain": ["Nuphar japonicum", "Oenanthe javanica", "Control", "Hydrocotyle umbellata", "H. verticillata", "Persicaria conspicua"], "range": ["white", "white", "black", "white", "black", "white"]}}}},
  {"transform": [{"filter": "datum.series == 'Control' && datum.date == '11/29'"}], "mark": {"type": "rule", "color": "black", "strokeWidth": 5}, "encoding": {
   "x": {"field": "date", "type": "nominal", "scale": {"type": "point", "domain": ["11/29", "12/3"], "padding": 0.147, "align": 0.4}, "axis": {"title": null, "labelAngle": 0, "ticks": false, "domainWidth": 1.5, "labelFont": "Liberation Serif", "labelFontSize": 14, "labelPadding": 8, "labelOverlap": false, "labelBound": false, "labelFlush": false}},
   "y": {"datum": 15.8, "type": "quantitative", "scale": {"domain": [0, 12], "nice": false}, "axis": {"values": [0, 2, 4, 6, 8, 10, 12], "ticks": false, "domainWidth": 2, "labels": false, "title": null}},
   "y2": {"datum": 13.25}}},
  {"transform": [{"filter": "datum.series == 'Control' && datum.date == '11/29'"}], "mark": {"type": "point", "shape": "M-1,-1L1,-1L0,1Z", "filled": true, "color": "black", "size": 300, "opacity": 1}, "encoding": {
   "x": {"field": "date", "type": "nominal", "scale": {"type": "point", "domain": ["11/29", "12/3"], "padding": 0.147, "align": 0.4}, "axis": {"title": null, "labelAngle": 0, "ticks": false, "domainWidth": 1.5, "labelFont": "Liberation Serif", "labelFontSize": 14, "labelPadding": 8, "labelOverlap": false, "labelBound": false, "labelFlush": false}},
   "y": {"datum": 12.89, "type": "quantitative", "scale": {"domain": [0, 12], "nice": false}, "axis": {"values": [0, 2, 4, 6, 8, 10, 12], "ticks": false, "domainWidth": 2, "labels": false, "title": null}}}}
 ]},
{"width": 88, "height": 212, "data": {"name": "bottom"}, "transform": [{"filter": "datum.panel == 4"}],
 "layer": [
  {"mark": {"type": "line", "color": "black"}, "encoding": {
   "x": {"field": "date", "type": "nominal", "scale": {"type": "point", "domain": ["12/3", "12/7"], "padding": 0.147, "align": 0.4}, "axis": {"title": "Date\u00a0 of\u00a0 investigation", "titleFont": "Liberation Serif", "titleFontSize": 15.5, "titleFontWeight": "bold", "titleX": 17, "titleY": 37, "titleAlign": "center", "titleBaseline": "top", "labelAngle": 0, "ticks": false, "domainWidth": 1.5, "labelFont": "Liberation Serif", "labelFontSize": 14, "labelPadding": 8, "labelOverlap": false, "labelBound": false, "labelFlush": false}},
   "y": {"field": "v", "type": "quantitative", "scale": {"domain": [0, 12], "nice": false}, "axis": {"values": [0, 2, 4, 6, 8, 10, 12], "ticks": false, "domainWidth": 2, "labels": false, "title": null}},
   "strokeDash": {"field": "series", "type": "nominal", "scale": {"domain": ["Nuphar japonicum", "Oenanthe javanica", "Control", "Hydrocotyle umbellata", "H. verticillata", "Persicaria conspicua"], "range": [[1, 0], [1, 0], [3, 2.5], [1.5, 2], [6, 3], [5, 2.5]]}, "legend": null},
   "strokeWidth": {"field": "series", "type": "nominal", "scale": {"domain": ["Nuphar japonicum", "Oenanthe javanica", "Control", "Hydrocotyle umbellata", "H. verticillata", "Persicaria conspicua"], "range": [2, 1, 2.5, 1, 2.5, 1.3]}, "legend": null}}},
  {"mark": {"type": "point", "filled": true, "stroke": "black", "strokeWidth": 1, "size": 70, "opacity": 1}, "encoding": {
   "x": {"field": "date", "type": "nominal", "scale": {"type": "point", "domain": ["12/3", "12/7"], "padding": 0.147, "align": 0.4}, "axis": {"title": "Date\u00a0 of\u00a0 investigation", "titleFont": "Liberation Serif", "titleFontSize": 15.5, "titleFontWeight": "bold", "titleX": 17, "titleY": 37, "titleAlign": "center", "titleBaseline": "top", "labelAngle": 0, "ticks": false, "domainWidth": 1.5, "labelFont": "Liberation Serif", "labelFontSize": 14, "labelPadding": 8, "labelOverlap": false, "labelBound": false, "labelFlush": false}},
   "y": {"field": "v", "type": "quantitative", "scale": {"domain": [0, 12], "nice": false}, "axis": {"values": [0, 2, 4, 6, 8, 10, 12], "ticks": false, "domainWidth": 2, "labels": false, "title": null}},
   "shape": {"field": "series", "type": "nominal", "legend": null, "scale": {"domain": ["Nuphar japonicum", "Oenanthe javanica", "Control", "Hydrocotyle umbellata", "H. verticillata", "Persicaria conspicua"], "range": ["circle", "M-0.75,-0.75L0.75,0.75M-0.75,0.75L0.75,-0.75", "triangle-up", "diamond", "square", "M-1,-1L1,-1L1,1L-1,1Z M0,-0.85L0.85,0L0,0.85L-0.85,0Z"]}},
   "fill": {"field": "series", "type": "nominal", "legend": null, "scale": {"domain": ["Nuphar japonicum", "Oenanthe javanica", "Control", "Hydrocotyle umbellata", "H. verticillata", "Persicaria conspicua"], "range": ["white", "white", "black", "white", "black", "white"]}}}},
  {"transform": [{"filter": "datum.series == 'Control' && datum.date == '12/3'"}], "mark": {"type": "rule", "color": "black", "strokeWidth": 5}, "encoding": {
   "x": {"field": "date", "type": "nominal", "scale": {"type": "point", "domain": ["12/3", "12/7"], "padding": 0.147, "align": 0.4}, "axis": {"title": "Date\u00a0 of\u00a0 investigation", "titleFont": "Liberation Serif", "titleFontSize": 15.5, "titleFontWeight": "bold", "titleX": 17, "titleY": 37, "titleAlign": "center", "titleBaseline": "top", "labelAngle": 0, "ticks": false, "domainWidth": 1.5, "labelFont": "Liberation Serif", "labelFontSize": 14, "labelPadding": 8, "labelOverlap": false, "labelBound": false, "labelFlush": false}},
   "y": {"datum": 15.8, "type": "quantitative", "scale": {"domain": [0, 12], "nice": false}, "axis": {"values": [0, 2, 4, 6, 8, 10, 12], "ticks": false, "domainWidth": 2, "labels": false, "title": null}},
   "y2": {"datum": 13.25}}},
  {"transform": [{"filter": "datum.series == 'Control' && datum.date == '12/3'"}], "mark": {"type": "point", "shape": "M-1,-1L1,-1L0,1Z", "filled": true, "color": "black", "size": 300, "opacity": 1}, "encoding": {
   "x": {"field": "date", "type": "nominal", "scale": {"type": "point", "domain": ["12/3", "12/7"], "padding": 0.147, "align": 0.4}, "axis": {"title": "Date\u00a0 of\u00a0 investigation", "titleFont": "Liberation Serif", "titleFontSize": 15.5, "titleFontWeight": "bold", "titleX": 17, "titleY": 37, "titleAlign": "center", "titleBaseline": "top", "labelAngle": 0, "ticks": false, "domainWidth": 1.5, "labelFont": "Liberation Serif", "labelFontSize": 14, "labelPadding": 8, "labelOverlap": false, "labelBound": false, "labelFlush": false}},
   "y": {"datum": 12.89, "type": "quantitative", "scale": {"domain": [0, 12], "nice": false}, "axis": {"values": [0, 2, 4, 6, 8, 10, 12], "ticks": false, "domainWidth": 2, "labels": false, "title": null}}}}
 ]},
{"width": 88, "height": 212, "data": {"name": "bottom"}, "transform": [{"filter": "datum.panel == 5"}],
 "layer": [
  {"mark": {"type": "line", "color": "black"}, "encoding": {
   "x": {"field": "date", "type": "nominal", "scale": {"type": "point", "domain": ["12/7", "12/11"], "padding": 0.147, "align": 0.4}, "axis": {"title": null, "labelAngle": 0, "ticks": false, "domainWidth": 1.5, "labelFont": "Liberation Serif", "labelFontSize": 14, "labelPadding": 8, "labelOverlap": false, "labelBound": false, "labelFlush": false}},
   "y": {"field": "v", "type": "quantitative", "scale": {"domain": [0, 12], "nice": false}, "axis": {"values": [0, 2, 4, 6, 8, 10, 12], "ticks": false, "domainWidth": 2, "labels": false, "title": null}},
   "strokeDash": {"field": "series", "type": "nominal", "scale": {"domain": ["Nuphar japonicum", "Oenanthe javanica", "Control", "Hydrocotyle umbellata", "H. verticillata", "Persicaria conspicua"], "range": [[1, 0], [1, 0], [3, 2.5], [1.5, 2], [6, 3], [5, 2.5]]}, "legend": null},
   "strokeWidth": {"field": "series", "type": "nominal", "scale": {"domain": ["Nuphar japonicum", "Oenanthe javanica", "Control", "Hydrocotyle umbellata", "H. verticillata", "Persicaria conspicua"], "range": [2, 1, 2.5, 1, 2.5, 1.3]}, "legend": null}}},
  {"mark": {"type": "point", "filled": true, "stroke": "black", "strokeWidth": 1, "size": 70, "opacity": 1}, "encoding": {
   "x": {"field": "date", "type": "nominal", "scale": {"type": "point", "domain": ["12/7", "12/11"], "padding": 0.147, "align": 0.4}, "axis": {"title": null, "labelAngle": 0, "ticks": false, "domainWidth": 1.5, "labelFont": "Liberation Serif", "labelFontSize": 14, "labelPadding": 8, "labelOverlap": false, "labelBound": false, "labelFlush": false}},
   "y": {"field": "v", "type": "quantitative", "scale": {"domain": [0, 12], "nice": false}, "axis": {"values": [0, 2, 4, 6, 8, 10, 12], "ticks": false, "domainWidth": 2, "labels": false, "title": null}},
   "shape": {"field": "series", "type": "nominal", "legend": null, "scale": {"domain": ["Nuphar japonicum", "Oenanthe javanica", "Control", "Hydrocotyle umbellata", "H. verticillata", "Persicaria conspicua"], "range": ["circle", "M-0.75,-0.75L0.75,0.75M-0.75,0.75L0.75,-0.75", "triangle-up", "diamond", "square", "M-1,-1L1,-1L1,1L-1,1Z M0,-0.85L0.85,0L0,0.85L-0.85,0Z"]}},
   "fill": {"field": "series", "type": "nominal", "legend": null, "scale": {"domain": ["Nuphar japonicum", "Oenanthe javanica", "Control", "Hydrocotyle umbellata", "H. verticillata", "Persicaria conspicua"], "range": ["white", "white", "black", "white", "black", "white"]}}}},
  {"transform": [{"filter": "datum.series == 'Control' && datum.date == '12/7'"}], "mark": {"type": "rule", "color": "black", "strokeWidth": 5}, "encoding": {
   "x": {"field": "date", "type": "nominal", "scale": {"type": "point", "domain": ["12/7", "12/11"], "padding": 0.147, "align": 0.4}, "axis": {"title": null, "labelAngle": 0, "ticks": false, "domainWidth": 1.5, "labelFont": "Liberation Serif", "labelFontSize": 14, "labelPadding": 8, "labelOverlap": false, "labelBound": false, "labelFlush": false}},
   "y": {"datum": 15.8, "type": "quantitative", "scale": {"domain": [0, 12], "nice": false}, "axis": {"values": [0, 2, 4, 6, 8, 10, 12], "ticks": false, "domainWidth": 2, "labels": false, "title": null}},
   "y2": {"datum": 13.25}}},
  {"transform": [{"filter": "datum.series == 'Control' && datum.date == '12/7'"}], "mark": {"type": "point", "shape": "M-1,-1L1,-1L0,1Z", "filled": true, "color": "black", "size": 300, "opacity": 1}, "encoding": {
   "x": {"field": "date", "type": "nominal", "scale": {"type": "point", "domain": ["12/7", "12/11"], "padding": 0.147, "align": 0.4}, "axis": {"title": null, "labelAngle": 0, "ticks": false, "domainWidth": 1.5, "labelFont": "Liberation Serif", "labelFontSize": 14, "labelPadding": 8, "labelOverlap": false, "labelBound": false, "labelFlush": false}},
   "y": {"datum": 12.89, "type": "quantitative", "scale": {"domain": [0, 12], "nice": false}, "axis": {"values": [0, 2, 4, 6, 8, 10, 12], "ticks": false, "domainWidth": 2, "labels": false, "title": null}}}}
 ]},
{"width": 88, "height": 212, "data": {"name": "bottom"}, "transform": [{"filter": "datum.panel == 6"}],
 "layer": [
  {"mark": {"type": "line", "color": "black"}, "encoding": {
   "x": {"field": "date", "type": "nominal", "scale": {"type": "point", "domain": ["12/11", "12/15"], "padding": 0.147, "align": 0.4}, "axis": {"title": null, "labelAngle": 0, "ticks": false, "domainWidth": 1.5, "labelFont": "Liberation Serif", "labelFontSize": 14, "labelPadding": 8, "labelOverlap": false, "labelBound": false, "labelFlush": false}},
   "y": {"field": "v", "type": "quantitative", "scale": {"domain": [0, 12], "nice": false}, "axis": {"values": [0, 2, 4, 6, 8, 10, 12], "ticks": false, "domainWidth": 2, "labels": false, "title": null}},
   "strokeDash": {"field": "series", "type": "nominal", "scale": {"domain": ["Nuphar japonicum", "Oenanthe javanica", "Control", "Hydrocotyle umbellata", "H. verticillata", "Persicaria conspicua"], "range": [[1, 0], [1, 0], [3, 2.5], [1.5, 2], [6, 3], [5, 2.5]]}, "legend": null},
   "strokeWidth": {"field": "series", "type": "nominal", "scale": {"domain": ["Nuphar japonicum", "Oenanthe javanica", "Control", "Hydrocotyle umbellata", "H. verticillata", "Persicaria conspicua"], "range": [2, 1, 2.5, 1, 2.5, 1.3]}, "legend": null}}},
  {"mark": {"type": "point", "filled": true, "stroke": "black", "strokeWidth": 1, "size": 70, "opacity": 1}, "encoding": {
   "x": {"field": "date", "type": "nominal", "scale": {"type": "point", "domain": ["12/11", "12/15"], "padding": 0.147, "align": 0.4}, "axis": {"title": null, "labelAngle": 0, "ticks": false, "domainWidth": 1.5, "labelFont": "Liberation Serif", "labelFontSize": 14, "labelPadding": 8, "labelOverlap": false, "labelBound": false, "labelFlush": false}},
   "y": {"field": "v", "type": "quantitative", "scale": {"domain": [0, 12], "nice": false}, "axis": {"values": [0, 2, 4, 6, 8, 10, 12], "ticks": false, "domainWidth": 2, "labels": false, "title": null}},
   "shape": {"field": "series", "type": "nominal", "legend": null, "scale": {"domain": ["Nuphar japonicum", "Oenanthe javanica", "Control", "Hydrocotyle umbellata", "H. verticillata", "Persicaria conspicua"], "range": ["circle", "M-0.75,-0.75L0.75,0.75M-0.75,0.75L0.75,-0.75", "triangle-up", "diamond", "square", "M-1,-1L1,-1L1,1L-1,1Z M0,-0.85L0.85,0L0,0.85L-0.85,0Z"]}},
   "fill": {"field": "series", "type": "nominal", "legend": null, "scale": {"domain": ["Nuphar japonicum", "Oenanthe javanica", "Control", "Hydrocotyle umbellata", "H. verticillata", "Persicaria conspicua"], "range": ["white", "white", "black", "white", "black", "white"]}}}},
  {"transform": [{"filter": "datum.series == 'Control' && datum.date == '12/11'"}], "mark": {"type": "rule", "color": "black", "strokeWidth": 5}, "encoding": {
   "x": {"field": "date", "type": "nominal", "scale": {"type": "point", "domain": ["12/11", "12/15"], "padding": 0.147, "align": 0.4}, "axis": {"title": null, "labelAngle": 0, "ticks": false, "domainWidth": 1.5, "labelFont": "Liberation Serif", "labelFontSize": 14, "labelPadding": 8, "labelOverlap": false, "labelBound": false, "labelFlush": false}},
   "y": {"datum": 15.8, "type": "quantitative", "scale": {"domain": [0, 12], "nice": false}, "axis": {"values": [0, 2, 4, 6, 8, 10, 12], "ticks": false, "domainWidth": 2, "labels": false, "title": null}},
   "y2": {"datum": 13.25}}},
  {"transform": [{"filter": "datum.series == 'Control' && datum.date == '12/11'"}], "mark": {"type": "point", "shape": "M-1,-1L1,-1L0,1Z", "filled": true, "color": "black", "size": 300, "opacity": 1}, "encoding": {
   "x": {"field": "date", "type": "nominal", "scale": {"type": "point", "domain": ["12/11", "12/15"], "padding": 0.147, "align": 0.4}, "axis": {"title": null, "labelAngle": 0, "ticks": false, "domainWidth": 1.5, "labelFont": "Liberation Serif", "labelFontSize": 14, "labelPadding": 8, "labelOverlap": false, "labelBound": false, "labelFlush": false}},
   "y": {"datum": 12.89, "type": "quantitative", "scale": {"domain": [0, 12], "nice": false}, "axis": {"values": [0, 2, 4, 6, 8, 10, 12], "ticks": false, "domainWidth": 2, "labels": false, "title": null}}}}
 ]},
{"width": 88, "height": 212, "data": {"name": "bottom"}, "transform": [{"filter": "datum.panel == 7"}],
 "layer": [
  {"mark": {"type": "line", "color": "black"}, "encoding": {
   "x": {"field": "date", "type": "nominal", "scale": {"type": "point", "domain": ["12/15", "12/19"], "padding": 0.147, "align": 0.4}, "axis": {"title": null, "labelAngle": 0, "ticks": false, "domainWidth": 1.5, "labelFont": "Liberation Serif", "labelFontSize": 14, "labelPadding": 8, "labelOverlap": false, "labelBound": false, "labelFlush": false}},
   "y": {"field": "v", "type": "quantitative", "scale": {"domain": [0, 12], "nice": false}, "axis": {"values": [0, 2, 4, 6, 8, 10, 12], "ticks": false, "domainWidth": 2, "labels": false, "title": null}},
   "strokeDash": {"field": "series", "type": "nominal", "scale": {"domain": ["Nuphar japonicum", "Oenanthe javanica", "Control", "Hydrocotyle umbellata", "H. verticillata", "Persicaria conspicua"], "range": [[1, 0], [1, 0], [3, 2.5], [1.5, 2], [6, 3], [5, 2.5]]}, "legend": null},
   "strokeWidth": {"field": "series", "type": "nominal", "scale": {"domain": ["Nuphar japonicum", "Oenanthe javanica", "Control", "Hydrocotyle umbellata", "H. verticillata", "Persicaria conspicua"], "range": [2, 1, 2.5, 1, 2.5, 1.3]}, "legend": null}}},
  {"mark": {"type": "point", "filled": true, "stroke": "black", "strokeWidth": 1, "size": 70, "opacity": 1}, "encoding": {
   "x": {"field": "date", "type": "nominal", "scale": {"type": "point", "domain": ["12/15", "12/19"], "padding": 0.147, "align": 0.4}, "axis": {"title": null, "labelAngle": 0, "ticks": false, "domainWidth": 1.5, "labelFont": "Liberation Serif", "labelFontSize": 14, "labelPadding": 8, "labelOverlap": false, "labelBound": false, "labelFlush": false}},
   "y": {"field": "v", "type": "quantitative", "scale": {"domain": [0, 12], "nice": false}, "axis": {"values": [0, 2, 4, 6, 8, 10, 12], "ticks": false, "domainWidth": 2, "labels": false, "title": null}},
   "shape": {"field": "series", "type": "nominal", "legend": null, "scale": {"domain": ["Nuphar japonicum", "Oenanthe javanica", "Control", "Hydrocotyle umbellata", "H. verticillata", "Persicaria conspicua"], "range": ["circle", "M-0.75,-0.75L0.75,0.75M-0.75,0.75L0.75,-0.75", "triangle-up", "diamond", "square", "M-1,-1L1,-1L1,1L-1,1Z M0,-0.85L0.85,0L0,0.85L-0.85,0Z"]}},
   "fill": {"field": "series", "type": "nominal", "legend": null, "scale": {"domain": ["Nuphar japonicum", "Oenanthe javanica", "Control", "Hydrocotyle umbellata", "H. verticillata", "Persicaria conspicua"], "range": ["white", "white", "black", "white", "black", "white"]}}}},
  {"transform": [{"filter": "datum.series == 'Control' && datum.date == '12/15'"}], "mark": {"type": "rule", "color": "black", "strokeWidth": 5}, "encoding": {
   "x": {"field": "date", "type": "nominal", "scale": {"type": "point", "domain": ["12/15", "12/19"], "padding": 0.147, "align": 0.4}, "axis": {"title": null, "labelAngle": 0, "ticks": false, "domainWidth": 1.5, "labelFont": "Liberation Serif", "labelFontSize": 14, "labelPadding": 8, "labelOverlap": false, "labelBound": false, "labelFlush": false}},
   "y": {"datum": 15.8, "type": "quantitative", "scale": {"domain": [0, 12], "nice": false}, "axis": {"values": [0, 2, 4, 6, 8, 10, 12], "ticks": false, "domainWidth": 2, "labels": false, "title": null}},
   "y2": {"datum": 13.25}}},
  {"transform": [{"filter": "datum.series == 'Control' && datum.date == '12/15'"}], "mark": {"type": "point", "shape": "M-1,-1L1,-1L0,1Z", "filled": true, "color": "black", "size": 300, "opacity": 1}, "encoding": {
   "x": {"field": "date", "type": "nominal", "scale": {"type": "point", "domain": ["12/15", "12/19"], "padding": 0.147, "align": 0.4}, "axis": {"title": null, "labelAngle": 0, "ticks": false, "domainWidth": 1.5, "labelFont": "Liberation Serif", "labelFontSize": 14, "labelPadding": 8, "labelOverlap": false, "labelBound": false, "labelFlush": false}},
   "y": {"datum": 12.89, "type": "quantitative", "scale": {"domain": [0, 12], "nice": false}, "axis": {"values": [0, 2, 4, 6, 8, 10, 12], "ticks": false, "domainWidth": 2, "labels": false, "title": null}}}}
 ]},
{"width": 88, "height": 212, "data": {"name": "bottom"}, "transform": [{"filter": "datum.panel == 8"}],
 "layer": [
  {"mark": {"type": "line", "color": "black"}, "encoding": {
   "x": {"field": "date", "type": "nominal", "scale": {"type": "point", "domain": ["12/19", "12/23"], "padding": 0.147, "align": 0.4}, "axis": {"title": null, "labelAngle": 0, "ticks": false, "domainWidth": 1.5, "labelFont": "Liberation Serif", "labelFontSize": 14, "labelPadding": 8, "labelOverlap": false, "labelBound": false, "labelFlush": false}},
   "y": {"field": "v", "type": "quantitative", "scale": {"domain": [0, 12], "nice": false}, "axis": {"values": [0, 2, 4, 6, 8, 10, 12], "ticks": false, "domainWidth": 2, "labels": false, "title": null}},
   "strokeDash": {"field": "series", "type": "nominal", "scale": {"domain": ["Nuphar japonicum", "Oenanthe javanica", "Control", "Hydrocotyle umbellata", "H. verticillata", "Persicaria conspicua"], "range": [[1, 0], [1, 0], [3, 2.5], [1.5, 2], [6, 3], [5, 2.5]]}, "legend": null},
   "strokeWidth": {"field": "series", "type": "nominal", "scale": {"domain": ["Nuphar japonicum", "Oenanthe javanica", "Control", "Hydrocotyle umbellata", "H. verticillata", "Persicaria conspicua"], "range": [2, 1, 2.5, 1, 2.5, 1.3]}, "legend": null}}},
  {"mark": {"type": "point", "filled": true, "stroke": "black", "strokeWidth": 1, "size": 70, "opacity": 1}, "encoding": {
   "x": {"field": "date", "type": "nominal", "scale": {"type": "point", "domain": ["12/19", "12/23"], "padding": 0.147, "align": 0.4}, "axis": {"title": null, "labelAngle": 0, "ticks": false, "domainWidth": 1.5, "labelFont": "Liberation Serif", "labelFontSize": 14, "labelPadding": 8, "labelOverlap": false, "labelBound": false, "labelFlush": false}},
   "y": {"field": "v", "type": "quantitative", "scale": {"domain": [0, 12], "nice": false}, "axis": {"values": [0, 2, 4, 6, 8, 10, 12], "ticks": false, "domainWidth": 2, "labels": false, "title": null}},
   "shape": {"field": "series", "type": "nominal", "legend": null, "scale": {"domain": ["Nuphar japonicum", "Oenanthe javanica", "Control", "Hydrocotyle umbellata", "H. verticillata", "Persicaria conspicua"], "range": ["circle", "M-0.75,-0.75L0.75,0.75M-0.75,0.75L0.75,-0.75", "triangle-up", "diamond", "square", "M-1,-1L1,-1L1,1L-1,1Z M0,-0.85L0.85,0L0,0.85L-0.85,0Z"]}},
   "fill": {"field": "series", "type": "nominal", "legend": null, "scale": {"domain": ["Nuphar japonicum", "Oenanthe javanica", "Control", "Hydrocotyle umbellata", "H. verticillata", "Persicaria conspicua"], "range": ["white", "white", "black", "white", "black", "white"]}}}},
  {"transform": [{"filter": "datum.series == 'Control' && datum.date == '12/19'"}], "mark": {"type": "rule", "color": "black", "strokeWidth": 5}, "encoding": {
   "x": {"field": "date", "type": "nominal", "scale": {"type": "point", "domain": ["12/19", "12/23"], "padding": 0.147, "align": 0.4}, "axis": {"title": null, "labelAngle": 0, "ticks": false, "domainWidth": 1.5, "labelFont": "Liberation Serif", "labelFontSize": 14, "labelPadding": 8, "labelOverlap": false, "labelBound": false, "labelFlush": false}},
   "y": {"datum": 15.8, "type": "quantitative", "scale": {"domain": [0, 12], "nice": false}, "axis": {"values": [0, 2, 4, 6, 8, 10, 12], "ticks": false, "domainWidth": 2, "labels": false, "title": null}},
   "y2": {"datum": 13.25}}},
  {"transform": [{"filter": "datum.series == 'Control' && datum.date == '12/19'"}], "mark": {"type": "point", "shape": "M-1,-1L1,-1L0,1Z", "filled": true, "color": "black", "size": 300, "opacity": 1}, "encoding": {
   "x": {"field": "date", "type": "nominal", "scale": {"type": "point", "domain": ["12/19", "12/23"], "padding": 0.147, "align": 0.4}, "axis": {"title": null, "labelAngle": 0, "ticks": false, "domainWidth": 1.5, "labelFont": "Liberation Serif", "labelFontSize": 14, "labelPadding": 8, "labelOverlap": false, "labelBound": false, "labelFlush": false}},
   "y": {"datum": 12.89, "type": "quantitative", "scale": {"domain": [0, 12], "nice": false}, "axis": {"values": [0, 2, 4, 6, 8, 10, 12], "ticks": false, "domainWidth": 2, "labels": false, "title": null}}}}
 ]}
]
}
],
"config": {
 "view": {"stroke": null},
 "background": "white",
 "font": "Liberation Serif",
 "axis": {"grid": false, "domainColor": "black", "labelColor": "black", "tickColor": "black", "titleColor": "black"}
}
}
